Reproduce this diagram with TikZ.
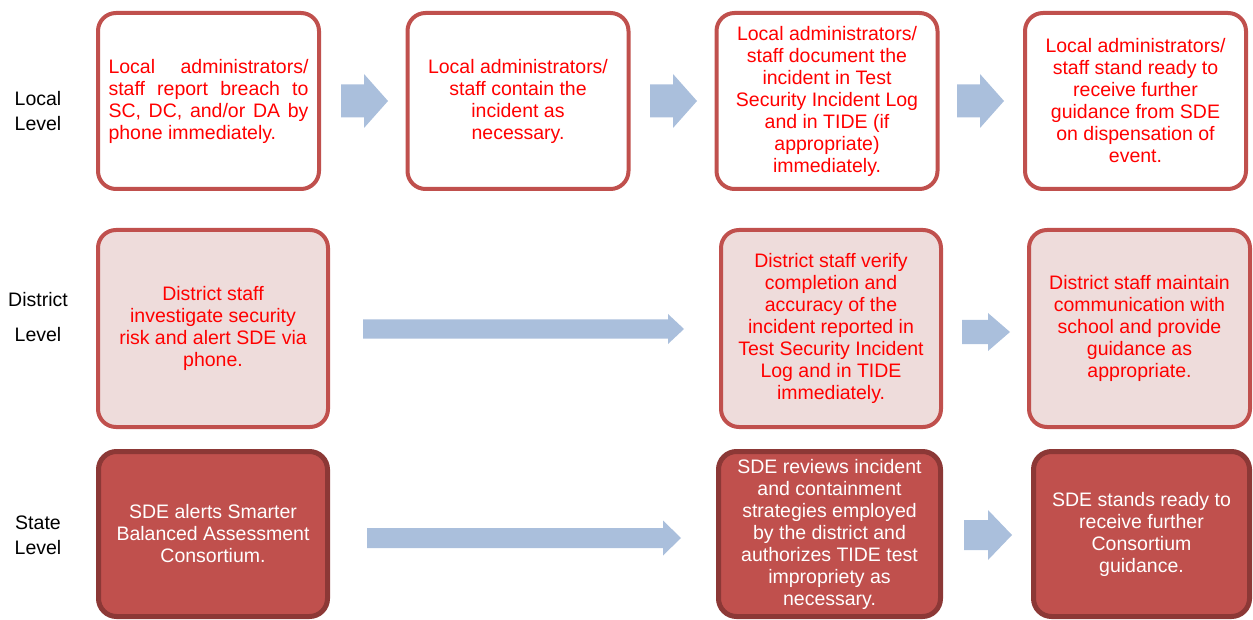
\documentclass[tikz,border=0pt]{standalone}
\usepackage{fontspec}
\setmainfont{Liberation Sans}
\usetikzlibrary{calc,positioning}

\definecolor{boxred}{HTML}{C0504D}
\definecolor{boxdark}{HTML}{8C3836}
\definecolor{boxpink}{HTML}{EEDCDB}
\definecolor{arrowblue}{HTML}{AABFDC}
\definecolor{textred}{HTML}{FF0000}

% fat block arrow: start, end, shaft half width, head half width, head length
\newcommand{\blockarrow}[5]{%
  \fill[arrowblue] let \p1 = (#1), \p2 = (#2) in
    (\x1,\y1+#3) -- (\x2-#5,\y1+#3) -- (\x2-#5,\y1+#4) -- (\x2,\y1)
    -- (\x2-#5,\y1-#4) -- (\x2-#5,\y1-#3) -- (\x1,\y1-#3) -- cycle;
}

\begin{document}
\begin{tikzpicture}[
    x = 0.5pt, y = -0.5pt, % one unit = one pixel of the layout
    font = \fontsize{9.75}{11}\selectfont,
    level/.style = {align=center, text=black, inner sep=0pt},
    levelbox/.style = {rounded corners=9pt, line width=2pt, align=center, inner sep=0pt},
    localbox/.style = {levelbox, draw=boxred, fill=white, text=textred,
        minimum width=110.5pt, minimum height=88pt},
    districtbox/.style = {levelbox, draw=boxred, fill=boxpink, text=textred,
        minimum height=98.5pt},
    statebox/.style = {levelbox, line width=2.5pt, draw=boxdark, fill=boxred, text=white,
        minimum height=82.5pt}
    ]

    \useasboundingbox (0,0) rectangle (1253,620);

    % row labels
    \node[level] (locallbl) at (38,111.5) {Local\\[1.5pt]Level};
    \node[level] (districtlbl) at (38,317.5) {District\\[6.5pt]Level};
    \node[level] (statelbl) at (38,535.5) {State\\[1.5pt]Level};

    % local level
    \node[localbox, align=justify, text width=100pt] (l1) at (208.5,101)
        {Local administrators/\linebreak staff report breach to\linebreak
         SC, DC, and/or DA by\linebreak phone immediately.};
    \node[localbox] (l2) at (518,101)
        {Local administrators/\\staff contain the\\incident as\\necessary.};
    \node[localbox] (l3) at (827,101)
        {Local administrators/\\staff document the\\incident in Test\\Security Incident Log\\
         and in TIDE (if\\appropriate)\\immediately.};
    \node[localbox] (l4) at (1135.5,101)
        {Local administrators/\\staff stand ready to\\receive further\\guidance from SDE\\
         on dispensation of\\event.};

    % district level
    \node[districtbox, minimum width=115pt] (d1) at (213,328.5)
        {District staff\\investigate security\\risk and alert SDE via\\phone.};
    \node[districtbox, minimum width=110pt] (d3) at (831,328.5)
        {District staff verify\\completion and\\accuracy of the\\incident reported in\\
         Test Security Incident\\Log and in TIDE\\immediately.};
    \node[districtbox, minimum width=110.5pt] (d4) at (1139.5,328.5)
        {District staff maintain\\communication with\\school and provide\\guidance as\\appropriate.};

    % state level
    \node[statebox, minimum width=114.5pt] (s1) at (213,534)
        {SDE alerts Smarter\\Balanced Assessment\\Consortium.};
    \node[statebox, minimum width=111pt] (s3) at (829.5,534)
        {SDE reviews incident\\and containment\\strategies employed\\by the district and\\
         authorizes TIDE test\\impropriety as\\necessary.};
    \node[statebox, minimum width=108pt] (s4) at (1141.5,534)
        {SDE stands ready to\\receive further\\Consortium\\guidance.};

    % arrow ends
    \coordinate (a12s) at (341,101);  \coordinate (a12e) at (388,101);
    \coordinate (a23s) at (650,101);  \coordinate (a23e) at (697,101);
    \coordinate (a34s) at (957,101);  \coordinate (a34e) at (1004,101);
    \coordinate (d13s) at (363,329);  \coordinate (d13e) at (684,329);
    \coordinate (d34s) at (962,332);  \coordinate (d34e) at (1010,332);
    \coordinate (s13s) at (367,538);  \coordinate (s13e) at (681,538);
    \coordinate (s34s) at (964,535);  \coordinate (s34e) at (1012,535);

    \blockarrow{a12s}{a12e}{8.25pt}{13.5pt}{12pt}
    \blockarrow{a23s}{a23e}{8.25pt}{13.5pt}{12pt}
    \blockarrow{a34s}{a34e}{8.25pt}{13.5pt}{12pt}
    \blockarrow{d13s}{d13e}{4.75pt}{7.5pt}{8pt}
    \blockarrow{d34s}{d34e}{6pt}{9.5pt}{11pt}
    \blockarrow{s13s}{s13e}{5pt}{8.75pt}{9pt}
    \blockarrow{s34s}{s34e}{7.5pt}{12.5pt}{12pt}
\end{tikzpicture}
\end{document}
